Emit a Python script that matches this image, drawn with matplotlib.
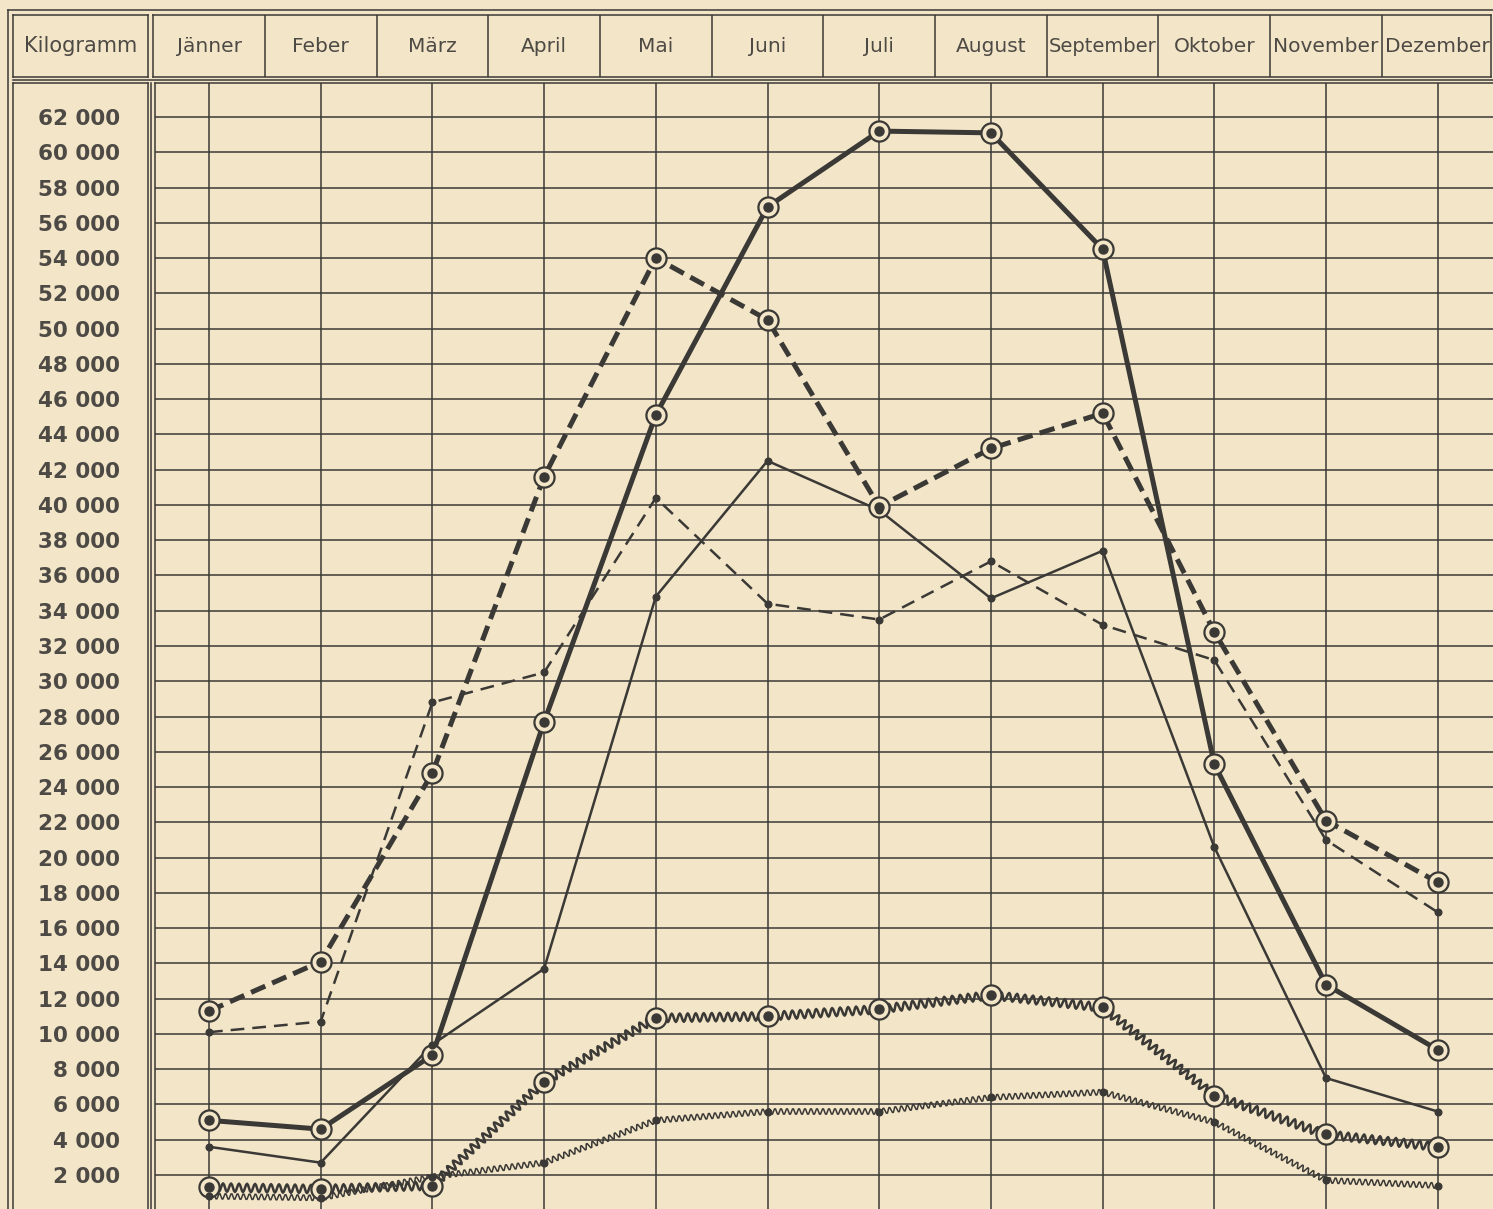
import matplotlib
matplotlib.use('Agg')
import matplotlib.pyplot as plt
from matplotlib.lines import Line2D

# ---------------- data ----------------
months = ["Jänner", "Feber", "März", "April", "Mai", "Juni", "Juli",
          "August", "September", "Oktober", "November", "Dezember"]
y_ticks = list(range(2000, 62001, 2000))
y_labels = [f"{v // 1000} 000" for v in y_ticks]
unit_label = "Kilogramm"

thick_solid = [5100, 4600, 8800, 27700, 45100, 56900, 61200, 61100, 54500, 25300, 12800, 9100]
thick_dashed = [11300, 14100, 24800, 41600, 54000, 50500, 39900, 43200, 45200, 32800, 22100, 18600]
thin_dashed = [10100, 10700, 28800, 30500, 40400, 34400, 33500, 36800, 33200, 31200, 21000, 16900]
thin_solid = [3600, 2700, 9400, 13700, 34800, 42500, 39700, 34700, 37400, 20600, 7500, 5600]
thick_zigzag = [1300, 1200, 1400, 7300, 10900, 11000, 11400, 12200, 11500, 6500, 4300, 3600]
thin_zigzag = [800, 700, 1900, 2700, 5100, 5600, 5600, 6400, 6700, 5000, 1700, 1400]

# ---------------- style ----------------
BG = "#f3e6c8"
INK = "#3b3936"
TXT = "#4d4944"
W, H = 1493, 1209

plt.rcParams['font.family'] = ['DejaVu Sans']

fig = plt.figure(figsize=(W / 100, H / 100), dpi=100, facecolor=BG)


def rect(l, t, r, b):
    return [l / W, 1 - b / H, (r - l) / W, (b - t) / H]


def xlim_px(l, r):
    return ((l - 209) / 111.7, (r - 209) / 111.7)


def ylim_px(t, b):
    f = lambda py: 2000 + (1175 - py) * 2000 / 35.267
    return (f(b), f(t))


# ---------------- main plot ----------------
ax = fig.add_axes(rect(155, 83, 1493, 1209))
ax.set_facecolor(BG)
ax.set_xlim(*xlim_px(155, 1493))
ax.set_ylim(*ylim_px(83, 1209))
x = list(range(len(months)))
ax.set_xticks(x)
ax.set_xticklabels([])
ax.set_yticks(y_ticks)
ax.set_yticklabels(y_labels, fontsize=15.5, color=TXT, fontweight='bold')
ax.tick_params(axis='both', length=0)
ax.tick_params(axis='y', pad=25)
ax.grid(True, color=INK, lw=1.1, zorder=1)
ax.set_axisbelow(True)
for s in ['right', 'bottom']:
    ax.spines[s].set_visible(False)
for s in ['left', 'top']:
    ax.spines[s].set_color(INK)
    ax.spines[s].set_linewidth(1.1)


def draw(vals, lw, ls, ring, sketch=None):
    line, = ax.plot(x, vals, color=INK, lw=lw, linestyle=ls, zorder=3,
                    solid_joinstyle='round', dash_capstyle='butt')
    if sketch is not None:
        line.set_sketch_params(*sketch)
    if ring:
        ax.plot(x, vals, 'o', ms=14.5, mfc=BG, mec=INK, mew=1.6, zorder=4)
        ax.plot(x, vals, 'o', ms=6.5, color=INK, zorder=5)
    else:
        ax.plot(x, vals, 'o', ms=4.8, color=INK, zorder=5)


draw(thin_solid, 1.8, '-', False)
draw(thin_dashed, 1.8, (0, (5.5, 3.2)), False)
draw(thin_zigzag, 1.1, '-', False, sketch=(3.0, 6, 1))
draw(thick_zigzag, 1.8, '-', True, sketch=(4.2, 8, 1))
draw(thick_dashed, 3.6, (0, (3.1, 1.5)), True)
draw(thick_solid, 3.6, '-', True)

# ---------------- header ----------------
hax = fig.add_axes(rect(153, 15, 1491, 77))
hax.set_facecolor(BG)
hax.set_xlim(*xlim_px(153, 1491))
hax.set_ylim(0, 1)
hax.set_xticks([])
hax.set_yticks([])
for s in hax.spines.values():
    s.set_color(INK)
    s.set_linewidth(1.1)
for k in range(1, len(months)):
    hax.axvline(k - 0.5, color=INK, lw=1.1)
for i, m in enumerate(months):
    fs = 14.5 if len(m) < 9 else 14
    hax.text(i, 0.5, m, ha='center', va='center', fontsize=fs, color=TXT)

kax = fig.add_axes(rect(13, 15, 148, 77))
kax.set_facecolor(BG)
kax.set_xticks([])
kax.set_yticks([])
for s in kax.spines.values():
    s.set_color(INK)
    s.set_linewidth(1.1)
kax.text(0.5, 0.5, unit_label, ha='center', va='center', fontsize=15,
         color=TXT, transform=kax.transAxes)

# left label box
lax = fig.add_axes(rect(13, 83, 148, 1209))
lax.set_facecolor('none')
lax.set_xticks([])
lax.set_yticks([])
lax.spines['bottom'].set_visible(False)
for s in ['left', 'top', 'right']:
    lax.spines[s].set_color(INK)
    lax.spines[s].set_linewidth(1.1)
lax.set_zorder(-1)


# outer frame lines
def fline(x0, y0, x1, y1):
    fig.add_artist(Line2D([x0 / W, x1 / W], [1 - y0 / H, 1 - y1 / H],
                          transform=fig.transFigure, color=INK, lw=1.1))


fline(8, 10, 1493, 10)
fline(8, 10, 8, 1209)
fline(151, 83, 151, 1209)
fline(13, 80, 1493, 80)

fig.savefig('out.png', dpi=100, facecolor=BG)
